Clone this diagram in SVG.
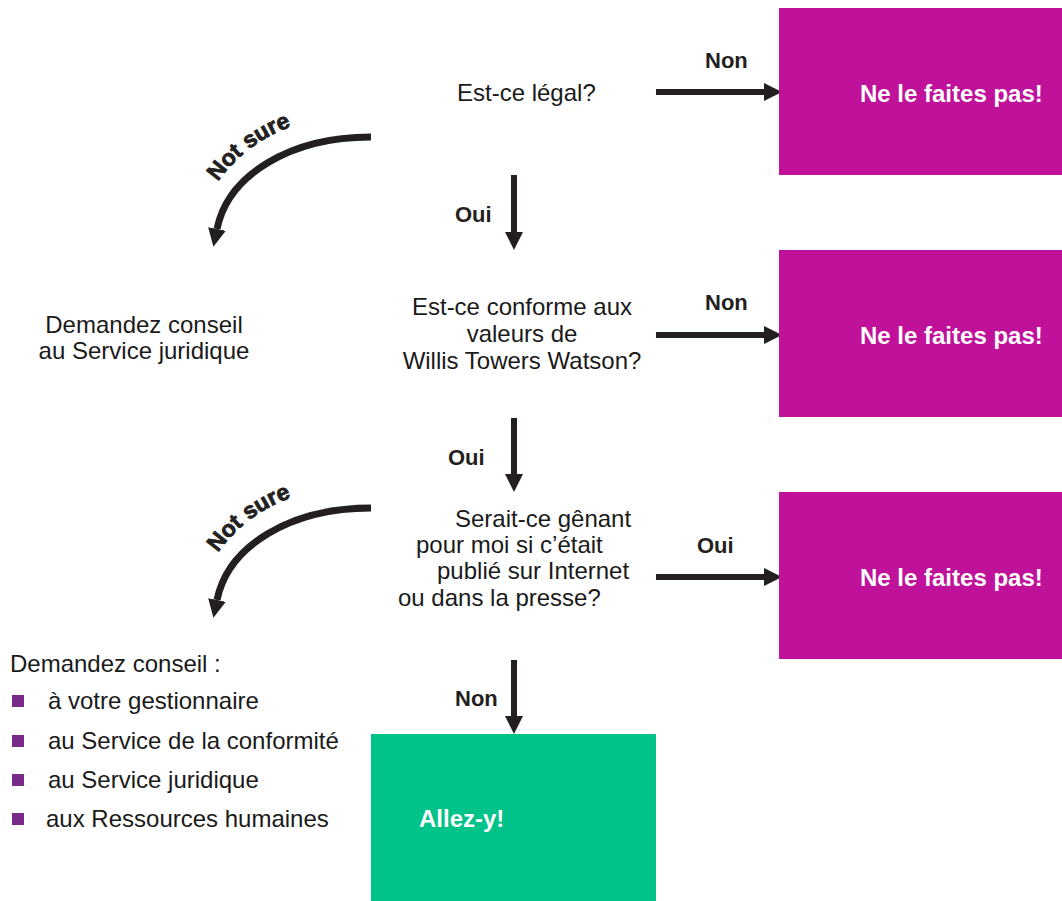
<svg xmlns="http://www.w3.org/2000/svg" xmlns:xlink="http://www.w3.org/1999/xlink" width="1062" height="901" viewBox="0 0 1062 901">
<style>
.q{font-family:"Liberation Sans",Arial,sans-serif;font-size:24px;fill:#1a1a1a}
.lbl{font-family:"Liberation Sans",Arial,sans-serif;font-size:22px;font-weight:bold;fill:#231f20}
.box{font-family:"Liberation Sans",Arial,sans-serif;font-size:24px;font-weight:bold;fill:#ffffff}
.ns{font-family:"Liberation Sans",Arial,sans-serif;font-size:23px;font-weight:bold;fill:#231f20;stroke:#231f20;stroke-width:0.8}
.stop{fill:#c0119b}
.go{fill:#00c389}
.bul{fill:#7b2a8c}
.arr{stroke:#231f20;stroke-width:6;fill:none;marker-end:url(#ah)}
.carr{stroke:#231f20;stroke-width:7;fill:none;marker-end:url(#ah)}
</style>
<defs>
<marker id="ah" markerUnits="userSpaceOnUse" viewBox="0 0 18 18" refX="0" refY="9" markerWidth="18" markerHeight="18" orient="auto">
<path d="M0,0 L18,9 L0,18 Z" fill="#231f20"/>
</marker>
<path id="tp1" d="M218,182 Q250,136 312,120"/>
<path id="tp2" d="M218,553 Q250,507 312,491"/>
</defs>

<g id="connectors">
<line class="arr" x1="656" y1="92" x2="764" y2="92"/>
<line class="arr" x1="656" y1="335" x2="764" y2="335"/>
<line class="arr" x1="656" y1="577" x2="764" y2="577"/>
<line class="arr" x1="514" y1="175" x2="514" y2="232"/>
<line class="arr" x1="514" y1="418" x2="514" y2="474"/>
<line class="arr" x1="514" y1="660" x2="514" y2="716"/>
<path class="carr" d="M371,137 C290,137 228,175 217,229"/>
<path class="carr" d="M371,508 C290,508 228,546 217,600"/>
<text class="lbl" x="705" y="68">Non</text>
<text class="lbl" x="705" y="310">Non</text>
<text class="lbl" x="697" y="553">Oui</text>
<text class="lbl" x="455" y="222">Oui</text>
<text class="lbl" x="448" y="465">Oui</text>
<text class="lbl" x="455" y="706">Non</text>
<text class="ns"><textPath xlink:href="#tp1" href="#tp1">Not sure</textPath></text>
<text class="ns"><textPath xlink:href="#tp2" href="#tp2">Not sure</textPath></text>
</g>

<g id="q1">
<text class="q" x="457" y="101">Est-ce légal?</text>
</g>
<g id="q2">
<text class="q" text-anchor="middle" x="522" y="315">Est-ce conforme aux</text>
<text class="q" text-anchor="middle" x="522" y="342">valeurs de</text>
<text class="q" text-anchor="middle" x="522" y="369">Willis Towers Watson?</text>
</g>
<g id="q3">
<text class="q" x="455" y="527">Serait-ce gênant</text>
<text class="q" x="416" y="553">pour moi si c’était</text>
<text class="q" x="437" y="579">publié sur Internet</text>
<text class="q" x="398" y="606">ou dans la presse?</text>
</g>

<g id="stop1">
<rect class="stop" x="779" y="8" width="283" height="167"/>
<text class="box" x="860" y="102">Ne le faites pas!</text>
</g>
<g id="stop2">
<rect class="stop" x="779" y="250" width="283" height="167"/>
<text class="box" x="860" y="344">Ne le faites pas!</text>
</g>
<g id="stop3">
<rect class="stop" x="779" y="492" width="283" height="167"/>
<text class="box" x="860" y="586">Ne le faites pas!</text>
</g>
<g id="go">
<rect class="go" x="371" y="734" width="285" height="167"/>
<text class="box" x="419" y="827">Allez-y!</text>
</g>

<g id="advice1">
<text class="q" text-anchor="middle" x="144" y="333">Demandez conseil</text>
<text class="q" text-anchor="middle" x="144" y="359">au Service juridique</text>
</g>

<g id="advice2">
<text class="q" x="10" y="672">Demandez conseil :</text>
<rect class="bul" x="12" y="695" width="12" height="12"/>
<text class="q" x="48" y="709">à votre gestionnaire</text>
<rect class="bul" x="12" y="735" width="12" height="12"/>
<text class="q" x="48" y="749">au Service de la conformité</text>
<rect class="bul" x="12" y="774" width="12" height="12"/>
<text class="q" x="48" y="788">au Service juridique</text>
<rect class="bul" x="12" y="813" width="12" height="12"/>
<text class="q" x="46" y="827">aux Ressources humaines</text>
</g>
</svg>
